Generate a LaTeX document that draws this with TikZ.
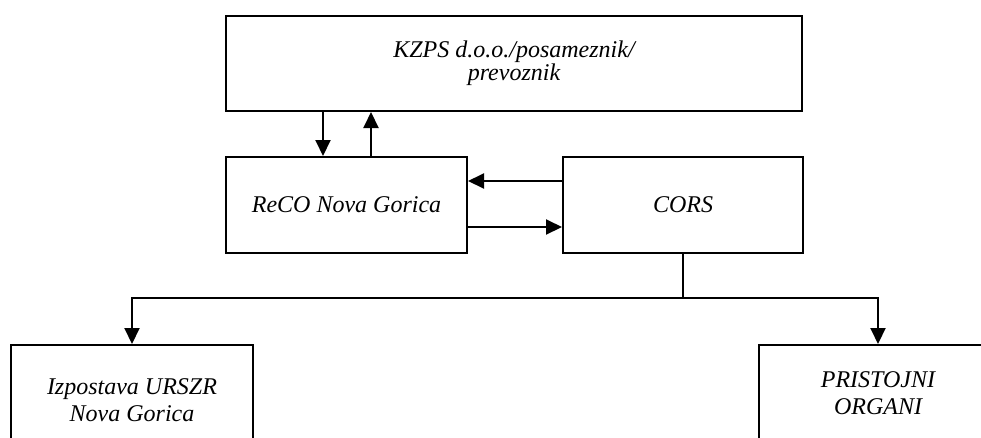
\documentclass[tikz,border=0pt]{standalone}
\usepackage{fontspec}
\setmainfont{Liberation Serif}
\usetikzlibrary{arrows.meta}
\tikzset{
  box/.style={draw, line width=2pt, rectangle, align=center, inner sep=0pt,
    font=\fontsize{24}{23}\selectfont\itshape},
  lowbox/.style={box, font=\fontsize{24}{27}\selectfont\itshape},
  flow/.style={line width=2pt, -{Triangle[length=16pt,width=15pt]}},
  link/.style={line width=2pt}
}
\begin{document}
\begin{tikzpicture}[x=1pt,y=-1pt]
\useasboundingbox (0,0) rectangle (981,437);
\clip (0,0) rectangle (981,437);
\node[box, minimum width=576pt, minimum height=95pt] (top) at (514,63.5) {KZPS d.o.o./posameznik/\\prevoznik};
\node[box, minimum width=241pt, minimum height=96pt] (reco) at (346.5,205) {ReCO Nova Gorica};
\node[box, minimum width=240pt, minimum height=96pt] (cors) at (683,205) {CORS};
\node[lowbox, minimum width=242pt, minimum height=111pt] (izp) at (132,400.5) {Izpostava URSZR\\Nova Gorica};
\node[lowbox, minimum width=238pt, minimum height=97pt] (pris) at (878,393.5) {PRISTOJNI\\ORGANI};
\coordinate (xa) at (323,0);
\coordinate (xb) at (371,0);
\coordinate (ya) at (0,181);
\coordinate (yb) at (0,227);
\draw[flow] (top.south -| xa) -- (reco.north -| xa);
\draw[flow] (reco.north -| xb) -- (top.south -| xb);
\draw[flow] (cors.west |- ya) -- (reco.east |- ya);
\draw[flow] (reco.east |- yb) -- (cors.west |- yb);
\draw[link] (cors.south) -- ++(0,44) coordinate (j);
\draw[flow] (j) -| (izp.north);
\draw[flow] (j) -| (pris.north);
\end{tikzpicture}
\end{document}
